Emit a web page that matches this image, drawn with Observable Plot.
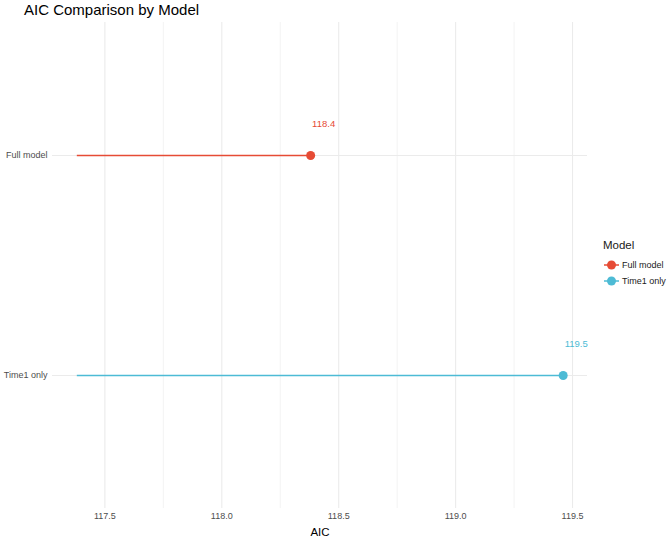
<!DOCTYPE html>
<html>
<head>
<meta charset="utf-8">
<script src="https://cdn.jsdelivr.net/npm/d3@7"></script>
<script src="https://cdn.jsdelivr.net/npm/@observablehq/plot@0.6"></script>
<style>
  body { margin: 0; background: #fff; font-family: "Liberation Sans", Arial, sans-serif; }
  #wrap { position: relative; width: 669px; height: 539px; }
  #title { position: absolute; left: 24px; top: 1px; font-size: 15px; color: #000; white-space: nowrap; }
  #chart { position: absolute; left: 0; top: 20px; }
  #legend { position: absolute; left: 603px; top: 239px; font-size: 9px; color: #1a1a1a; white-space: nowrap; }
  #legend .lt { font-size: 11.5px; margin-bottom: 6px; }
  #legend .row { display: flex; align-items: center; height: 16px; }
  #legend svg { margin-right: 2px; }
</style>
</head>
<body>
<div id="wrap">
  <div id="title">AIC Comparison by Model</div>
  <div id="chart"></div>
  <div id="legend"></div>
</div>
<script>
const models = ["Full model", "Time1 only"];
const aic = [118.38, 119.46];
const colors = ["#E64B35", "#4DBBD5"];
const xTicks = [117.5, 118.0, 118.5, 119.0, 119.5];
const minorTicks = [117.75, 118.25, 118.75, 119.25];

const base = Math.min(...aic) - 1;
const data = models.map((m, i) => ({model: m, aic: aic[i], base, label: aic[i].toFixed(1)}));

const lo = base, hi = Math.max(...aic);
const pad = (hi - lo) * 0.05;

const chart = Plot.plot({
  width: 595,
  height: 519,
  marginLeft: 52,
  marginRight: 8,
  marginTop: 2,
  marginBottom: 31,
  style: {fontFamily: "Liberation Sans, Arial, sans-serif", fontSize: "9px", background: "#fff"},
  x: {domain: [lo - pad, hi + pad], ticks: xTicks, tickFormat: d3.format(".1f"), label: null},
  y: {type: "point", domain: models, padding: 0.6, label: null},
  color: {domain: models, range: colors},
  marks: [
    Plot.ruleX(minorTicks, {stroke: "#ebebeb", strokeWidth: 0.6}),
    Plot.ruleX(xTicks, {stroke: "#ebebeb", strokeWidth: 1.1}),
    Plot.ruleY(models, {y: d => d, stroke: "#ebebeb", strokeWidth: 1.1}),
    Plot.link(data, {x1: "base", x2: "aic", y1: "model", y2: "model", stroke: "model", strokeWidth: 1.5}),
    Plot.dot(data, {x: "aic", y: "model", fill: "model", r: 4.5}),
    Plot.text(data, {x: "aic", y: "model", text: "label", fill: "model", dx: 13, dy: -32, fontSize: 9.5}),
    Plot.axisX({ticks: xTicks, tickFormat: d3.format(".1f"), tickSize: 0, tickPadding: 4, color: "#4d4d4d", fontSize: 9, label: null}),
    Plot.axisY({tickSize: 0, tickPadding: 5, color: "#4d4d4d", fontSize: 9, label: null}),
    Plot.text(["AIC"], {frameAnchor: "bottom", dy: 27, fontSize: 11.5, fill: "#000"})
  ]
});
document.getElementById("chart").appendChild(chart);

const legend = document.getElementById("legend");
const lt = document.createElement("div");
lt.className = "lt";
lt.textContent = "Model";
legend.appendChild(lt);
models.forEach((m, i) => {
  const row = document.createElement("div");
  row.className = "row";
  row.innerHTML = `<svg width="17" height="16"><line x1="1" x2="16" y1="8" y2="8" stroke="${colors[i]}" stroke-width="1.5"/><circle cx="8.5" cy="8" r="4.5" fill="${colors[i]}"/></svg><span>${m}</span>`;
  legend.appendChild(row);
});
</script>
</body>
</html>
